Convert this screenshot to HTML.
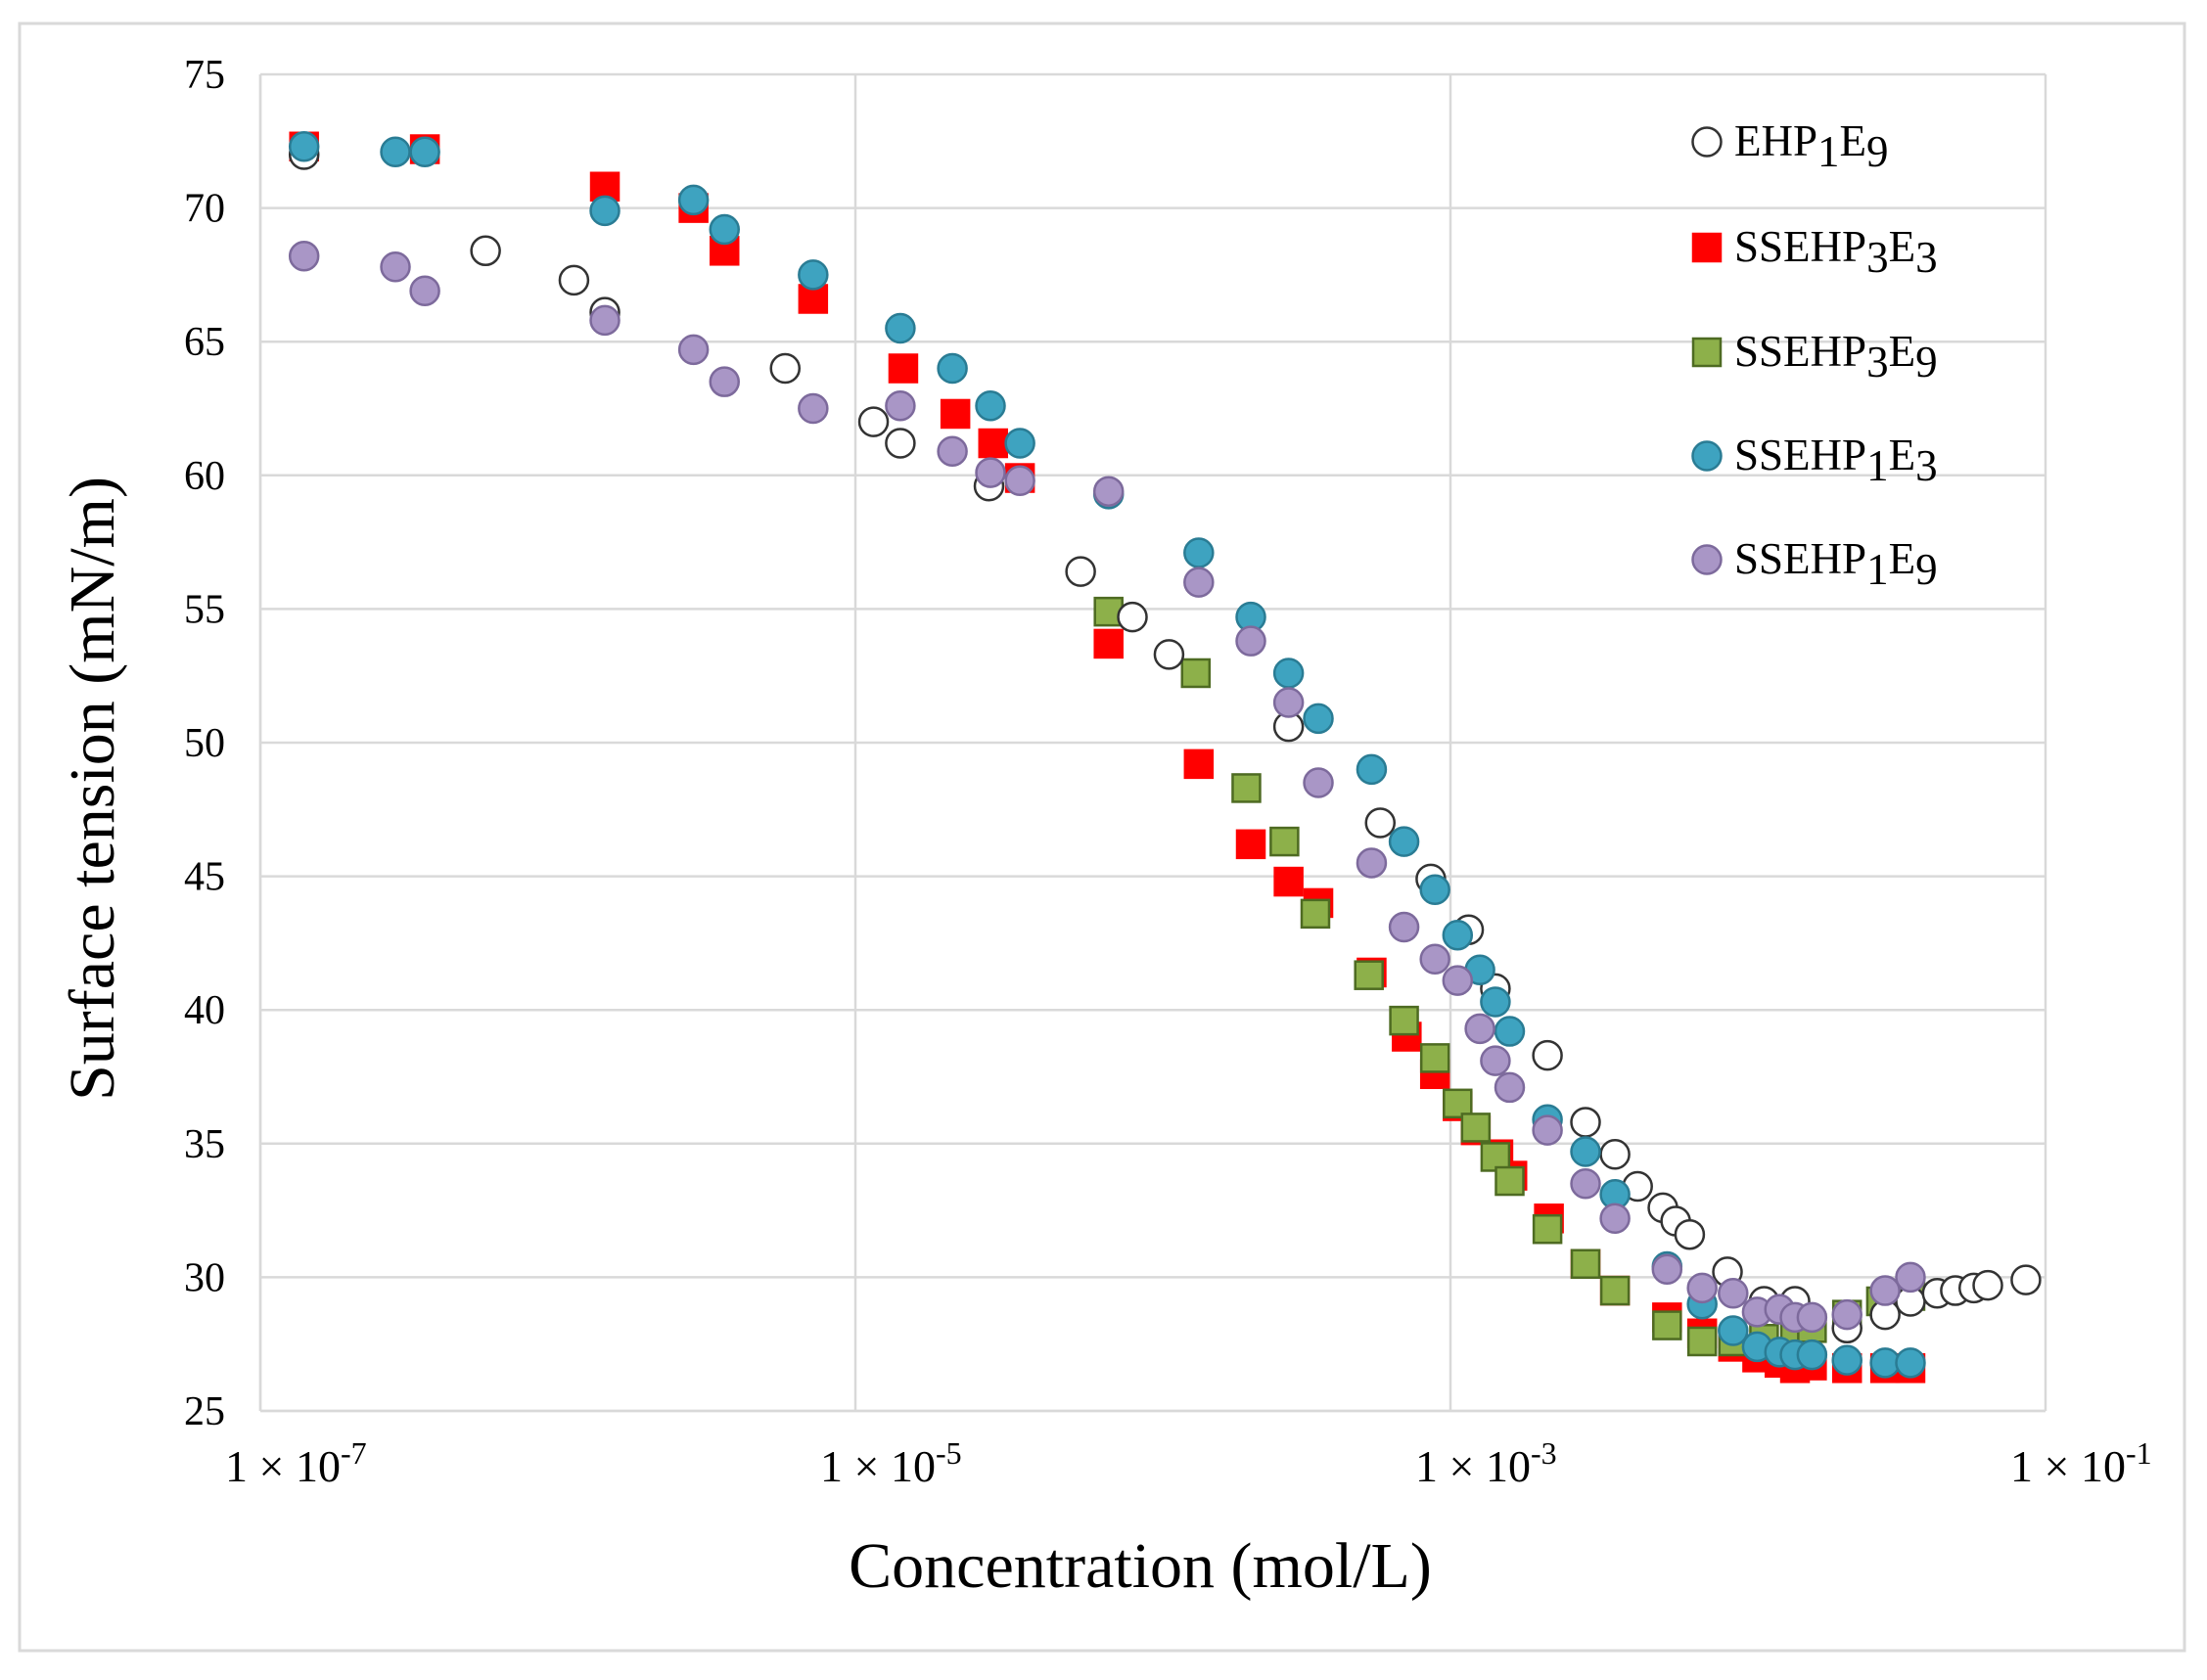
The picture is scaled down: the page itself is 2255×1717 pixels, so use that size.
<!DOCTYPE html>
<html><head><meta charset="utf-8"><style>
html,body{margin:0;padding:0;background:#fff;}
svg{display:block;font-family:"Liberation Serif",serif;}
</style></head><body>
<svg id="chart" width="2255" height="1717" viewBox="0 0 2255 1717" xmlns="http://www.w3.org/2000/svg">
<rect x="20" y="24" width="2212" height="1663" fill="#fff" stroke="#d9d9d9" stroke-width="3"/>
<g id="grid"></g><g id="ticks"></g><g id="marks"></g>
<text x="1165" y="1622" font-size="66" text-anchor="middle" fill="#000">Concentration (mol/L)</text>
<text transform="translate(116,806) rotate(-90)" font-size="66" text-anchor="middle" fill="#000">Surface tension (mN/m)</text>
<g id="legend"></g>
</svg>
<script>
const yTicks=[25,30,35,40,45,50,55,60,65,70,75];
const xTicks=[-7,-5,-3,-1];
const seriesNames=["EHP1E9","SSEHP3E3","SSEHP3E9","SSEHP1E3","SSEHP1E9"];
const ehpX=[-6.853,-6.243,-5.946,-5.842,-5.236,-4.939,-4.849,-4.551,-4.243,-4.069,-3.946,-3.544,-3.236,-3.066,-2.939,-2.849,-2.674,-2.546,-2.447,-2.371,-2.286,-2.243,-2.196,-2.069,-1.946,-1.842,-1.667,-1.539,-1.454,-1.364,-1.303,-1.241,-1.194,-1.066];
const ehpY=[72.0,68.4,67.3,66.1,64.0,62.0,61.2,59.6,56.4,54.7,53.3,50.6,47.0,44.9,43.0,40.8,38.3,35.8,34.6,33.4,32.6,32.1,31.6,30.2,29.1,29.1,28.1,28.6,29.1,29.4,29.5,29.6,29.7,29.9];
const p3e3X=[-6.853,-6.447,-5.842,-5.544,-5.440,-5.142,-4.839,-4.664,-4.537,-4.447,-4.149,-3.846,-3.671,-3.544,-3.444,-3.265,-3.147,-3.052,-2.976,-2.915,-2.839,-2.792,-2.669,-2.546,-2.447,-2.272,-2.154,-2.050,-1.969,-1.894,-1.842,-1.785,-1.667,-1.539,-1.454];
const p3e3Y=[72.3,72.2,70.8,70.0,68.4,66.6,64.0,62.3,61.2,59.9,53.7,49.2,46.2,44.8,44.0,41.4,39.0,37.6,36.4,35.5,34.6,33.8,32.2,30.5,29.5,28.5,27.9,27.4,27.0,26.8,26.6,26.7,26.6,26.6,26.6];
const p3e9X=[-4.149,-3.856,-3.686,-3.558,-3.454,-3.274,-3.156,-3.052,-2.976,-2.915,-2.849,-2.801,-2.674,-2.546,-2.447,-2.272,-2.154,-2.050,-1.946,-1.842,-1.785,-1.667,-1.553,-1.454];
const p3e9Y=[54.9,52.6,48.3,46.3,43.6,41.3,39.6,38.2,36.5,35.6,34.5,33.6,31.8,30.5,29.5,28.2,27.6,27.6,27.7,27.8,28.1,28.6,29.1,29.3];
const p1e3X=[-6.853,-6.546,-6.447,-5.842,-5.544,-5.440,-5.142,-4.849,-4.674,-4.546,-4.447,-4.149,-3.846,-3.671,-3.544,-3.444,-3.265,-3.156,-3.052,-2.976,-2.901,-2.849,-2.801,-2.674,-2.546,-2.447,-2.272,-2.154,-2.050,-1.969,-1.894,-1.842,-1.785,-1.667,-1.539,-1.454];
const p1e3Y=[72.3,72.1,72.1,69.9,70.3,69.2,67.5,65.5,64.0,62.6,61.2,59.3,57.1,54.7,52.6,50.9,49.0,46.3,44.5,42.8,41.5,40.3,39.2,35.9,34.7,33.1,30.4,29.0,28.0,27.4,27.2,27.1,27.1,26.9,26.8,26.8];
const p1e9X=[-6.853,-6.546,-6.447,-5.842,-5.544,-5.440,-5.142,-4.849,-4.674,-4.546,-4.447,-4.149,-3.846,-3.671,-3.544,-3.444,-3.265,-3.156,-3.052,-2.976,-2.901,-2.849,-2.801,-2.674,-2.546,-2.447,-2.272,-2.154,-2.050,-1.969,-1.894,-1.842,-1.785,-1.667,-1.539,-1.454];
const p1e9Y=[68.2,67.8,66.9,65.8,64.7,63.5,62.5,62.6,60.9,60.1,59.8,59.4,56.0,53.8,51.5,48.5,45.5,43.1,41.9,41.1,39.3,38.1,37.1,35.5,33.5,32.2,30.3,29.6,29.4,28.7,28.8,28.5,28.5,28.6,29.5,30.0];

const NS="http://www.w3.org/2000/svg";
const L=266,R=2090,T=76,B=1442;
const xs=v=>L+(v+7)/6*(R-L);
const ys=v=>B-(v-25)/50*(B-T);
function mk(tag,attrs,parent){const e=document.createElementNS(NS,tag);for(const k in attrs)e.setAttribute(k,attrs[k]);parent.appendChild(e);return e;}
const grid=document.getElementById('grid'),ticks=document.getElementById('ticks'),marks=document.getElementById('marks'),legend=document.getElementById('legend');
yTicks.forEach(t=>{
  const ln=mk('line',{x1:L,x2:R,y1:ys(t),y2:ys(t),stroke:'#d9d9d9','stroke-width':2.5},grid);
  
  
  const tx=mk('text',{x:230,y:ys(t)+14,'font-size':42,'text-anchor':'end',fill:'#000'},ticks);
  tx.textContent=t;
  
  
});
xTicks.forEach(t=>{
  const ln=mk('line',{x1:xs(t),x2:xs(t),y1:T,y2:B,stroke:'#d9d9d9','stroke-width':2.5},grid);
  
  
  const tx=mk('text',{x:xs(t)-36,y:1514,'font-size':46,'text-anchor':'start',fill:'#000'},ticks);
  
  
  tx.appendChild(document.createTextNode('1 × 10'));
  const sp=mk('tspan',{dy:-18,'font-size':32},tx);sp.textContent=t;
});
const ax=mk('line',{x1:L,x2:R,y1:B,y2:B,stroke:'#d9d9d9','stroke-width':2.5},grid);

const ay=mk('line',{x1:L,x2:L,y1:T,y2:B,stroke:'#d9d9d9','stroke-width':2.5},grid);

const styles=[
 {shape:'circle',fill:'#fff',stroke:'#333'},
 {shape:'square',fill:'#ff0000',stroke:'#ff0000'},
 {shape:'square',fill:'#8db04a',stroke:'#4e6b22'},
 {shape:'circle',fill:'#3ea3c0',stroke:'#2a7c94'},
 {shape:'circle',fill:'#a996c6',stroke:'#7d6a9c'}];
function marker(st,cx,cy,parent){
  if(st.shape==='circle') return mk('circle',{cx:cx,cy:cy,r:14.5,fill:st.fill,stroke:st.stroke,'stroke-width':2.5},parent);
  return mk('rect',{x:cx-14,y:cy-14,width:28,height:28,fill:st.fill,stroke:st.stroke,'stroke-width':2.5},parent);
}
const allX=[ehpX,p3e3X,p3e9X,p1e3X,p1e9X],allY=[ehpY,p3e3Y,p3e9Y,p1e3Y,p1e9Y];
const order=[1,2,0,3,4];
order.forEach(si=>{
  const g=mk('g',{},marks);
  
  
  allX[si].forEach((x,i)=>{
    const m=marker(styles[si],xs(x),ys(allY[si][i]),g);
    
    
  });
});
const labels=[["EHP","1","E","9"],["SSEHP","3","E","3"],["SSEHP","3","E","9"],["SSEHP","1","E","3"],["SSEHP","1","E","9"]];
const ly=[145,253,360,466,572];
labels.forEach((lb,i)=>{
  const g=mk('g',{},legend);
  
  
  marker(styles[i],1744,ly[i],g);
  const tx=mk('text',{x:1772,y:ly[i]+14,'font-size':45,fill:'#000'},g);
  tx.appendChild(document.createTextNode(lb[0]));
  const s1=mk('tspan',{dy:11},tx);s1.textContent=lb[1];
  const s2=mk('tspan',{dy:-11},tx);s2.textContent=lb[2];
  const s3=mk('tspan',{dy:11},tx);s3.textContent=lb[3];
});
</script>
</body></html>
